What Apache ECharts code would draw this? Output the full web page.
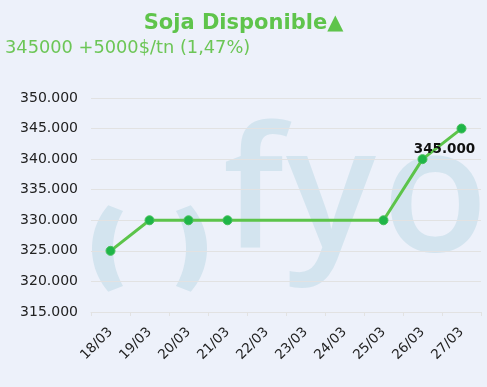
<!DOCTYPE html>
<html><head><meta charset="utf-8">
<script src="https://cdn.jsdelivr.net/npm/echarts@6/dist/echarts.min.js"></script>
<style>html,body{margin:0;padding:0;background:#edf1fa;}#c{width:487px;height:387px;}</style>
</head><body><div id="c"></div>
<script>
var categories = ['18/03','19/03','20/03','21/03','22/03','23/03','24/03','25/03','26/03','27/03'];
var prices = [325000, 330000, 330000, 330000, null, null, null, 330000, 340000, 345000];
var yTicks = [315000, 320000, 325000, 330000, 335000, 340000, 345000, 350000];
var titleText = 'Soja Disponible▲';
var subText = '345000 +5000$/tn (1,47%)';
var lastLabel = '345.000';

function fmt(v){ return String(v).replace(/\B(?=(\d{3})+(?!\d))/g, '.'); }

// decorative watermark crescent (logo parenthesis)
function crescent(mirror){
  var pts = [], i, t, N = 30;
  var a0 = Math.atan2(205-248.5, 108-157.8), a1 = Math.atan2(292-248.5, 108-157.8);
  if (a1 > a0) a1 -= 2*Math.PI;
  for (i=0;i<=N;i++){ t=a0+(a1-a0)*i/N; pts.push([157.8+65.8*Math.cos(t), 248.5+65.8*Math.sin(t)]); }
  var b0 = Math.atan2(286-248.5, 123-188), b1 = Math.atan2(211-248.5, 123-188);
  if (b1 < b0) b1 += 2*Math.PI;
  for (i=0;i<=N;i++){ t=b0+(b1-b0)*i/N; pts.push([188+75*Math.cos(t), 248.5+75*Math.sin(t)]); }
  if (mirror) pts = pts.map(function(p){ return [299-p[0], p[1]]; });
  return pts;
}

var chart = echarts.init(document.getElementById('c'), null, {renderer:'canvas'});
var wm = '#d3e4ef';
var wmFont = {fontSize: 168, fontWeight: 600, fontFamily:'Open Sans', fill: wm};
var data = prices.map(function(v, i){
  if (i === prices.length - 1) {
    return {value: v, label: {show: true, formatter: lastLabel, position: 'inside', offset: [-17, 21],
      color: '#111', fontWeight: 'bold', fontSize: 13.5, fontFamily: 'DejaVu Sans'}};
  }
  return v;
});
chart.setOption({
  backgroundColor: '#edf1fa',
  animation: false,
  title: [{
    text: titleText, left: 'center', top: 8,
    textStyle: {color: '#5fc44b', fontSize: 21, fontWeight: 'bold', fontFamily: 'DejaVu Sans'}
  }, {
    text: subText, left: 0, top: 34,
    textStyle: {color: '#6cc656', fontSize: 17.8, fontWeight: 'normal', fontFamily: 'DejaVu Sans'}
  }],
  graphic: [
    {type:'polygon', z:-1, shape:{points: crescent(false)}, style:{fill: wm}},
    {type:'polygon', z:-1, shape:{points: crescent(true)}, style:{fill: wm}},
    {type:'text', z:-1, left: 223, top: 116, style: Object.assign({text:'f'}, wmFont)},
    {type:'text', z:-1, left: 286, top: 116, style: Object.assign({text:'y'}, wmFont)},
    {type:'text', z:-1, left: 382, top: 114, style: Object.assign({text:'o'}, wmFont, {fontSize: 174})}
  ],
  grid: {left: 91, right: 6, top: 98, bottom: 75},
  xAxis: {
    type: 'category', data: categories, boundaryGap: true,
    axisLine: {lineStyle: {color: '#e2e2e2'}},
    axisTick: {show: true, lineStyle: {color: '#e2e2e2'}, length: 4},
    axisLabel: {rotate: 45, color: '#222', fontSize: 13.5, fontFamily: 'DejaVu Sans', margin: 18}
  },
  yAxis: {
    type: 'value', min: yTicks[0], max: yTicks[yTicks.length-1], interval: 5000,
    axisLine: {show: false}, axisTick: {show: false},
    splitLine: {lineStyle: {color: '#e2e2e2'}},
    axisLabel: {color: '#222', fontSize: 14, fontFamily: 'DejaVu Sans', margin: 13, formatter: function(v){return fmt(v);}}
  },
  series: [{
    type: 'line', data: data, connectNulls: true,
    lineStyle: {color: '#5cc44a', width: 3},
    itemStyle: {color: '#1fb548', borderColor: '#44c05a', borderWidth: 1},
    symbol: 'circle', symbolSize: 9, showSymbol: true
  }]
});
</script></body></html>
